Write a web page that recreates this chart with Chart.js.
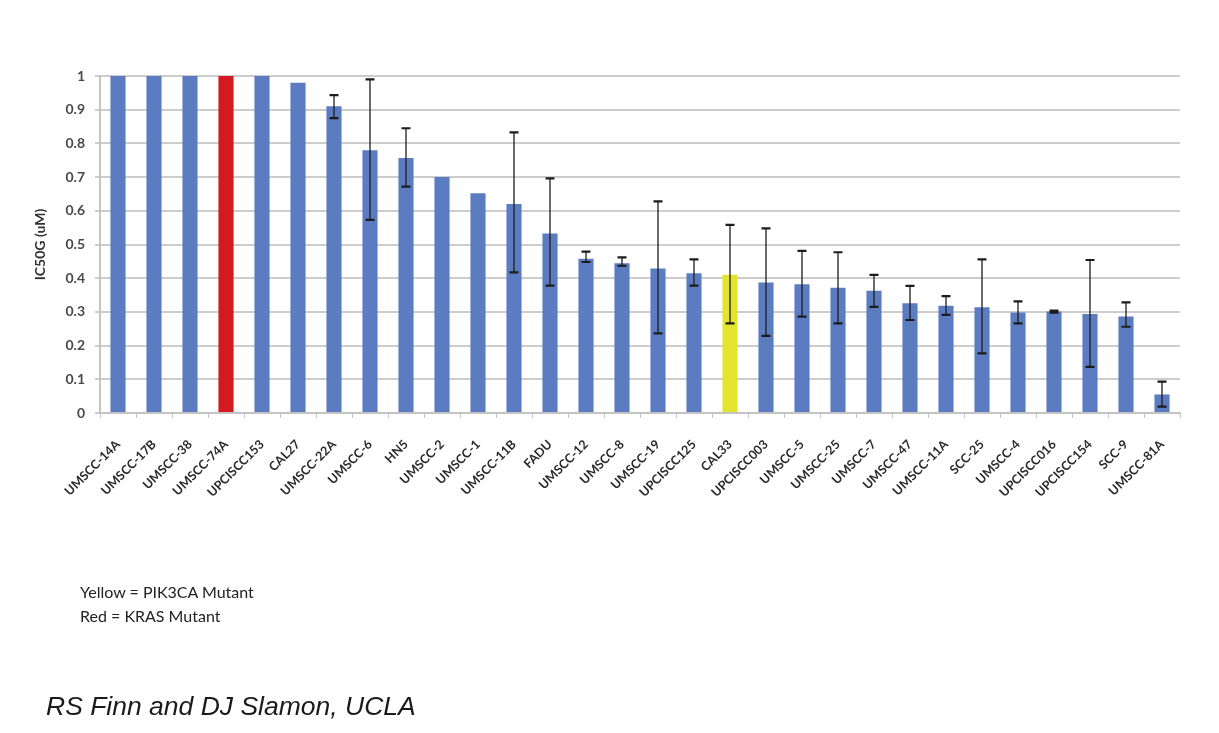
<!DOCTYPE html>
<html>
<head>
<meta charset="utf-8">
<script src="https://cdn.jsdelivr.net/npm/chart.js@4.4.1/dist/chart.umd.min.js"></script>
<style>
  html, body { margin: 0; padding: 0; background: #ffffff; }
  #wrap { position: relative; width: 1219px; height: 733px; overflow: hidden; }
  #chart { position: absolute; left: 0; top: 0; }
  .note { position: absolute; left: 80px; font-family: Lato, "Open Sans", sans-serif; font-size: 16px; color: #222; white-space: nowrap; }
  #credit { position: absolute; left: 46px; top: 691px; font-family: "Liberation Sans", Arial, sans-serif; font-style: italic; font-size: 26.5px; color: #1a1a1a; white-space: nowrap; }
</style>
</head>
<body>
<div id="wrap">
  <canvas id="chart" width="1219" height="733"></canvas>
  <div class="note" style="top:582px">Yellow = PIK3CA Mutant</div>
  <div class="note" style="top:606px">Red = KRAS Mutant</div>
  <div id="credit">RS Finn and DJ Slamon, UCLA</div>
</div>
<script>
// Cell lines, ordered by IC50
const cellLines = [
  'UMSCC-14A', 'UMSCC-17B', 'UMSCC-38', 'UMSCC-74A', 'UPCISCC153', 'CAL27',
  'UMSCC-22A', 'UMSCC-6', 'HN5', 'UMSCC-2', 'UMSCC-1', 'UMSCC-11B', 'FADU',
  'UMSCC-12', 'UMSCC-8', 'UMSCC-19', 'UPCISCC125', 'CAL33', 'UPCISCC003',
  'UMSCC-5', 'UMSCC-25', 'UMSCC-7', 'UMSCC-47', 'UMSCC-11A', 'SCC-25',
  'UMSCC-4', 'UPCISCC016', 'UPCISCC154', 'SCC-9', 'UMSCC-81A'
];

// IC50 (uM)
const ic50 = [
  1, 1, 1, 1, 1, 0.98,
  0.91, 0.78, 0.757, 0.70, 0.652, 0.62, 0.533,
  0.458, 0.444, 0.429, 0.415, 0.41, 0.387,
  0.382, 0.372, 0.363, 0.326, 0.318, 0.314,
  0.298, 0.301, 0.294, 0.286, 0.055
];

// Error bar limits (uM); null where no error bar is shown
const errUpper = [
  null, null, null, null, null, null,
  0.943, 0.99, 0.845, null, null, 0.833, 0.696,
  0.479, 0.462, 0.628, 0.456, 0.558, 0.548,
  0.481, 0.477, 0.41, 0.377, 0.347, 0.456,
  0.331, 0.304, 0.454, 0.328, 0.093
];
const errLower = [
  null, null, null, null, null, null,
  0.875, 0.573, 0.672, null, null, 0.417, 0.378,
  0.448, 0.437, 0.236, 0.378, 0.266, 0.229,
  0.286, 0.266, 0.315, 0.276, 0.291, 0.177,
  0.266, 0.298, 0.137, 0.256, 0.019
];

// Mutation status: 'KRAS', 'PIK3CA' or '' (wild type)
const mutation = [
  '', '', '', 'KRAS', '', '',
  '', '', '', '', '', '', '',
  '', '', '', '', 'PIK3CA', '',
  '', '', '', '', '', '',
  '', '', '', '', ''
];

const yTicks = [0, 0.1, 0.2, 0.3, 0.4, 0.5, 0.6, 0.7, 0.8, 0.9, 1];

const palette = { '': '#5b7cc1', 'KRAS': '#d21a1f', 'PIK3CA': '#e4e42c' };
const barColors = mutation.map(m => palette[m]);

// Draws vertical error bars with caps on top of the bars
const errorBars = {
  id: 'errorBars',
  afterDatasetsDraw(chart) {
    const { ctx, scales: { y } } = chart;
    const meta = chart.getDatasetMeta(0);
    ctx.save();
    ctx.strokeStyle = '#1c1c1c';
    meta.data.forEach((bar, i) => {
      if (errUpper[i] == null || errLower[i] == null) return;
      const cx = bar.x;
      const yt = y.getPixelForValue(errUpper[i]);
      const yb = y.getPixelForValue(errLower[i]);
      ctx.lineWidth = 1.3;
      ctx.beginPath();
      ctx.moveTo(cx, yt);
      ctx.lineTo(cx, yb);
      ctx.stroke();
      ctx.lineWidth = 2.2;
      ctx.beginPath();
      ctx.moveTo(cx - 4.5, yt); ctx.lineTo(cx + 4.5, yt);
      ctx.moveTo(cx - 4.5, yb); ctx.lineTo(cx + 4.5, yb);
      ctx.stroke();
    });
    ctx.restore();
  }
};

new Chart(document.getElementById('chart'), {
  type: 'bar',
  data: {
    labels: cellLines,
    datasets: [{
      data: ic50,
      backgroundColor: barColors,
      borderWidth: 0,
      barPercentage: 0.42,
      categoryPercentage: 1.0
    }]
  },
  options: {
    responsive: false,
    animation: false,
    layout: { padding: { top: 76, right: 39, bottom: 0, left: 0 } },
    plugins: { legend: { display: false }, tooltip: { enabled: false } },
    scales: {
      x: {
        grid: {
          offset: true,
          drawOnChartArea: false,
          drawTicks: true,
          tickLength: 5,
          color: '#c4c4c4',
          lineWidth: 1
        },
        border: { color: '#c4c4c4', width: 2 },
        ticks: {
          autoSkip: false,
          maxRotation: 45,
          minRotation: 45,
          padding: 19,
          color: '#2a2a2a',
          font: { family: 'Lato', size: 12.5, weight: 'bold' }
        },
        afterFit(scale) { scale.height = 320; }
      },
      y: {
        min: 0,
        max: 1,
        afterBuildTicks(scale) { scale.ticks = yTicks.map(v => ({ value: v })); },
        grid: {
          color: '#cdcdcd',
          lineWidth: 2,
          tickLength: 5,
          drawTicks: true
        },
        border: { color: '#c4c4c4', width: 2 },
        ticks: {
          padding: 10,
          color: '#4a4a4a',
          font: { family: 'Lato', size: 14, weight: 'bold' },
          callback: (v) => String(Number(v.toFixed(1)))
        },
        title: {
          display: true,
          text: 'IC50G (uM)',
          color: '#333',
          padding: { top: 32, bottom: 0 },
          font: { family: 'Lato', size: 14, weight: 'bold' }
        },
        afterFit(scale) { scale.width = 100; }
      }
    }
  },
  plugins: [errorBars]
});
</script>
</body>
</html>
